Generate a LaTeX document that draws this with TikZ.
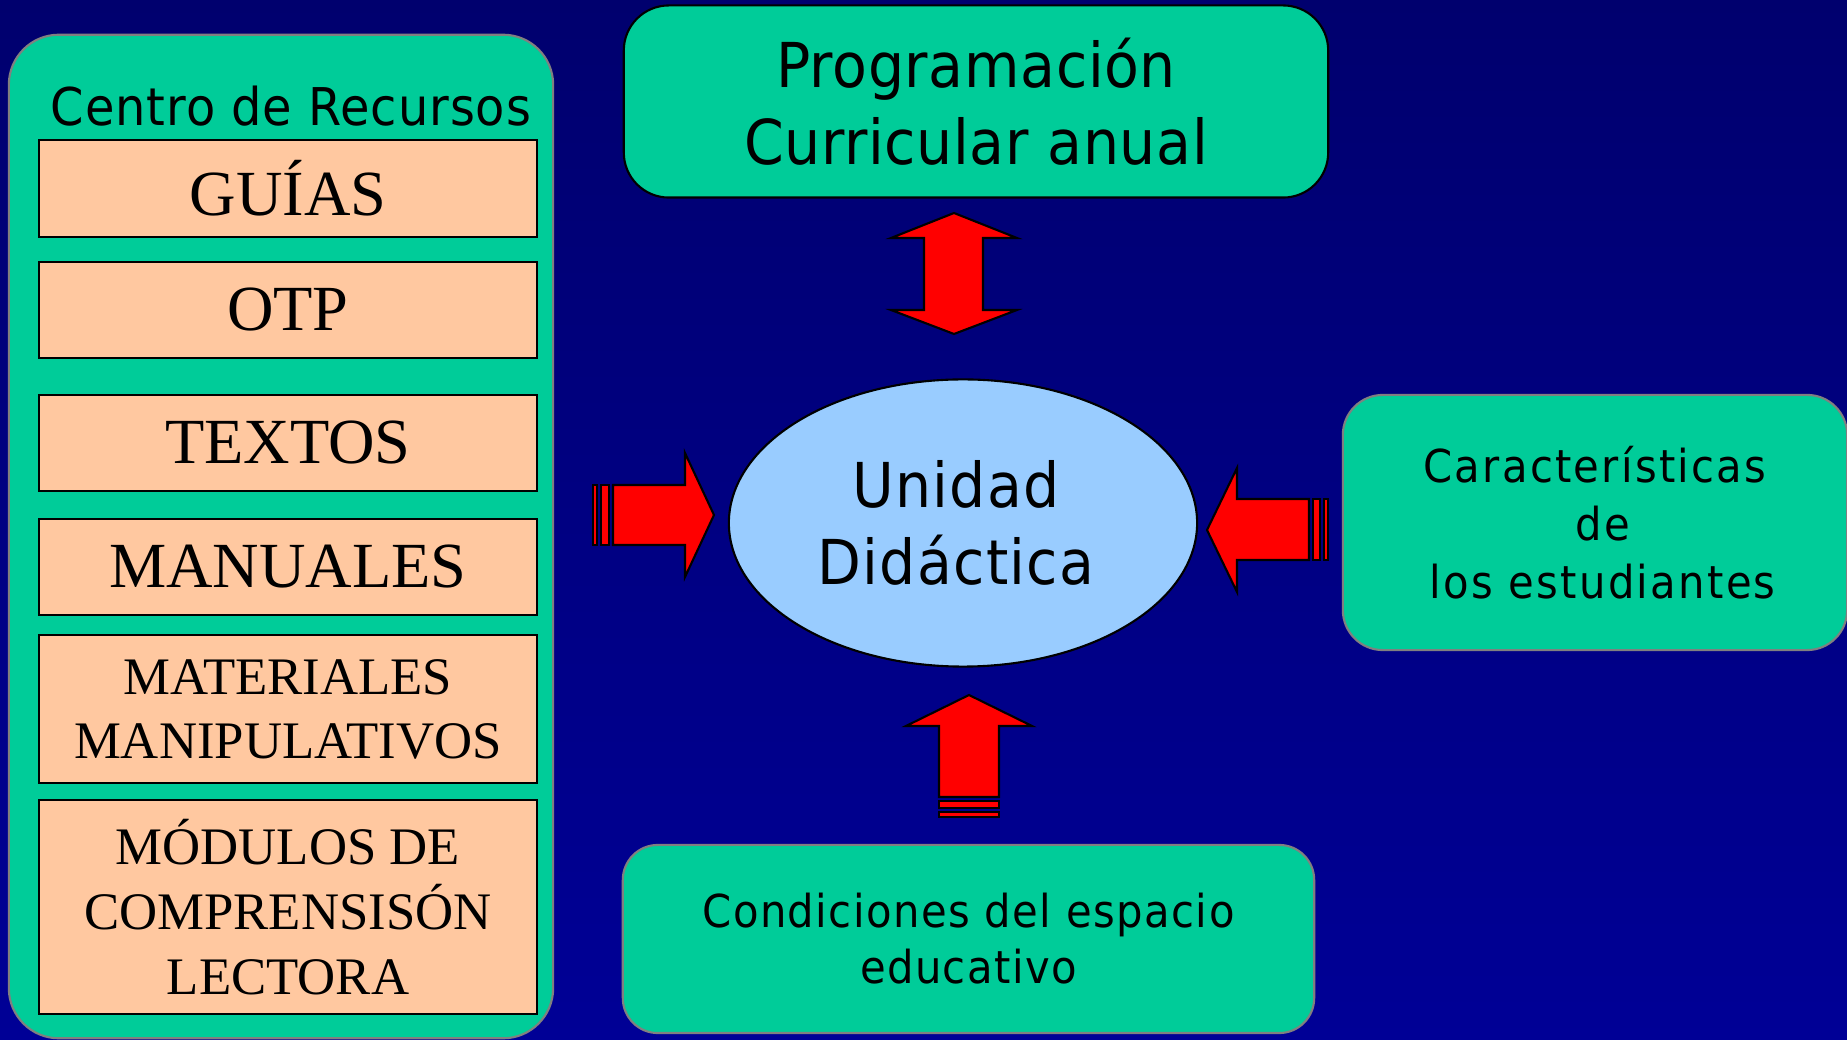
\documentclass[tikz,border=0pt]{standalone}
\usepackage{fontspec}
\setmainfont{Liberation Serif}
\newfontfamily\tahoma{DejaVu Sans}[FakeStretch=0.92]
\usetikzlibrary{shapes.geometric}
\definecolor{fondoA}{RGB}{0,0,110}
\definecolor{fondoB}{RGB}{0,0,150}
\definecolor{verde}{RGB}{0,204,153}
\definecolor{durazno}{RGB}{255,200,160}
\definecolor{celeste}{RGB}{153,204,255}

\begin{document}
\begin{tikzpicture}[x=0.01cm, y=-0.01cm,
    panel/.style={draw=gray, line width=0.6pt, fill=verde, rounded corners=0.45cm, inner sep=0pt, align=center, font=\tahoma},
    recurso/.style={draw=black, line width=0.6pt, fill=durazno, minimum width=4.98cm, inner sep=0pt, align=center},
    flecha/.style={draw=black, line width=0.6pt, fill=red, line join=miter}]
    \useasboundingbox (0,0) rectangle (1847,1040);
    \shade[top color=fondoA, bottom color=fondoB] (0,0) rectangle (1847,1040);

    % centro de recursos
    \node[panel, rounded corners=0.5cm, minimum width=5.44cm, minimum height=10.03cm] (centro) at (281,536.5) {};
    \node[anchor=base, font=\tahoma\addfontfeature{LetterSpace=1.8}\fontsize{14.8}{17}\selectfont] (titulo) at (291,126) {Centro de Recursos};
    \node[recurso, minimum height=0.97cm, font=\fontsize{18.3}{20}\selectfont] (guias) at (288,188.5) {GUÍAS};
    \node[recurso, minimum height=0.96cm, font=\fontsize{18.3}{20}\selectfont] (otp) at (288,310) {OTP};
    \node[recurso, minimum height=0.96cm, font=\fontsize{18.3}{20}\selectfont] (textos) at (288,443) {TEXTOS};
    \node[recurso, minimum height=0.96cm, font=\fontsize{18.3}{20}\selectfont] (manuales) at (288,567) {MANUALES};
    \node[recurso, minimum height=1.48cm, font=\fontsize{15}{18.2}\selectfont] (materiales) at (288,709) {MATERIALES\\MANIPULATIVOS};
    \node[recurso, minimum height=2.14cm, font=\fontsize{15}{18.5}\selectfont] (modulos) at (288,907) {MÓDULOS DE\\COMPRENSISÓN\\LECTORA};

    % cajas alrededor
    \node[panel, draw=black, minimum width=7.04cm, minimum height=1.92cm, font=\tahoma\addfontfeature{LetterSpace=1}\fontsize{17.6}{21.9}\selectfont] (prog) at (976,101.5) {Programación\\Curricular anual};
    \node[draw=black, line width=0.6pt, fill=celeste, ellipse, inner sep=0pt, minimum width=4.68cm, minimum height=2.87cm] (unidad) at (963,523) {};
    \node[align=center, font=\tahoma\addfontfeature{LetterSpace=2}\fontsize{17.6}{21.9}\selectfont] (unidadtxt) at (956,523) {Unidad\\Didáctica};
    \node[panel, rounded corners=0.4cm, minimum width=5.04cm, minimum height=2.55cm, font=\tahoma\addfontfeature{LetterSpace=5}\fontsize{12.9}{16.5}\selectfont] (carac) at (1595,522.5) {Características\\\ de\\\ los estudiantes};
    \node[panel, rounded corners=0.35cm, minimum width=6.91cm, minimum height=1.88cm, font=\tahoma\addfontfeature{LetterSpace=3.2}\fontsize{12.9}{15.9}\selectfont] (cond) at (968.5,939) {Condiciones del espacio\\educativo};

    % flechas
    \coordinate (dt) at (954,213);
    \draw[flecha] (dt) -- ++(63,25) -- ++(-34,0) -- ++(0,72) -- ++(34,0) -- ++(-63,24) -- ++(-63,-24) -- ++(33,0) -- ++(0,-72) -- ++(-33,0) -- cycle;

    \coordinate (lt) at (714,515);
    \draw[flecha] (lt) -- ++(-29,62) -- ++(0,-32) -- ++(-72,0) -- ++(0,-60) -- ++(72,0) -- ++(0,-32) -- cycle;
    \draw[flecha] ([shift={(-113,-30)}]lt) rectangle ++(8,60);
    \draw[flecha] ([shift={(-121,-30)}]lt) rectangle ++(4,60);

    \coordinate (rt) at (1207,530);
    \draw[flecha] (rt) -- ++(30,-62) -- ++(0,31) -- ++(72,0) -- ++(0,61) -- ++(-72,0) -- ++(0,32) -- cycle;
    \draw[flecha] ([shift={(106,-31)}]rt) rectangle ++(7,61);
    \draw[flecha] ([shift={(117,-31)}]rt) rectangle ++(4,61);

    \coordinate (ut) at (969,695);
    \draw[flecha] (ut) -- ++(63,31) -- ++(-33,0) -- ++(0,71) -- ++(-60,0) -- ++(0,-71) -- ++(-33,0) -- cycle;
    \draw[flecha] ([shift={(-30,106)}]ut) rectangle ++(60,7);
    \draw[flecha] ([shift={(-30,117)}]ut) rectangle ++(60,5);
\end{tikzpicture}
\end{document}
